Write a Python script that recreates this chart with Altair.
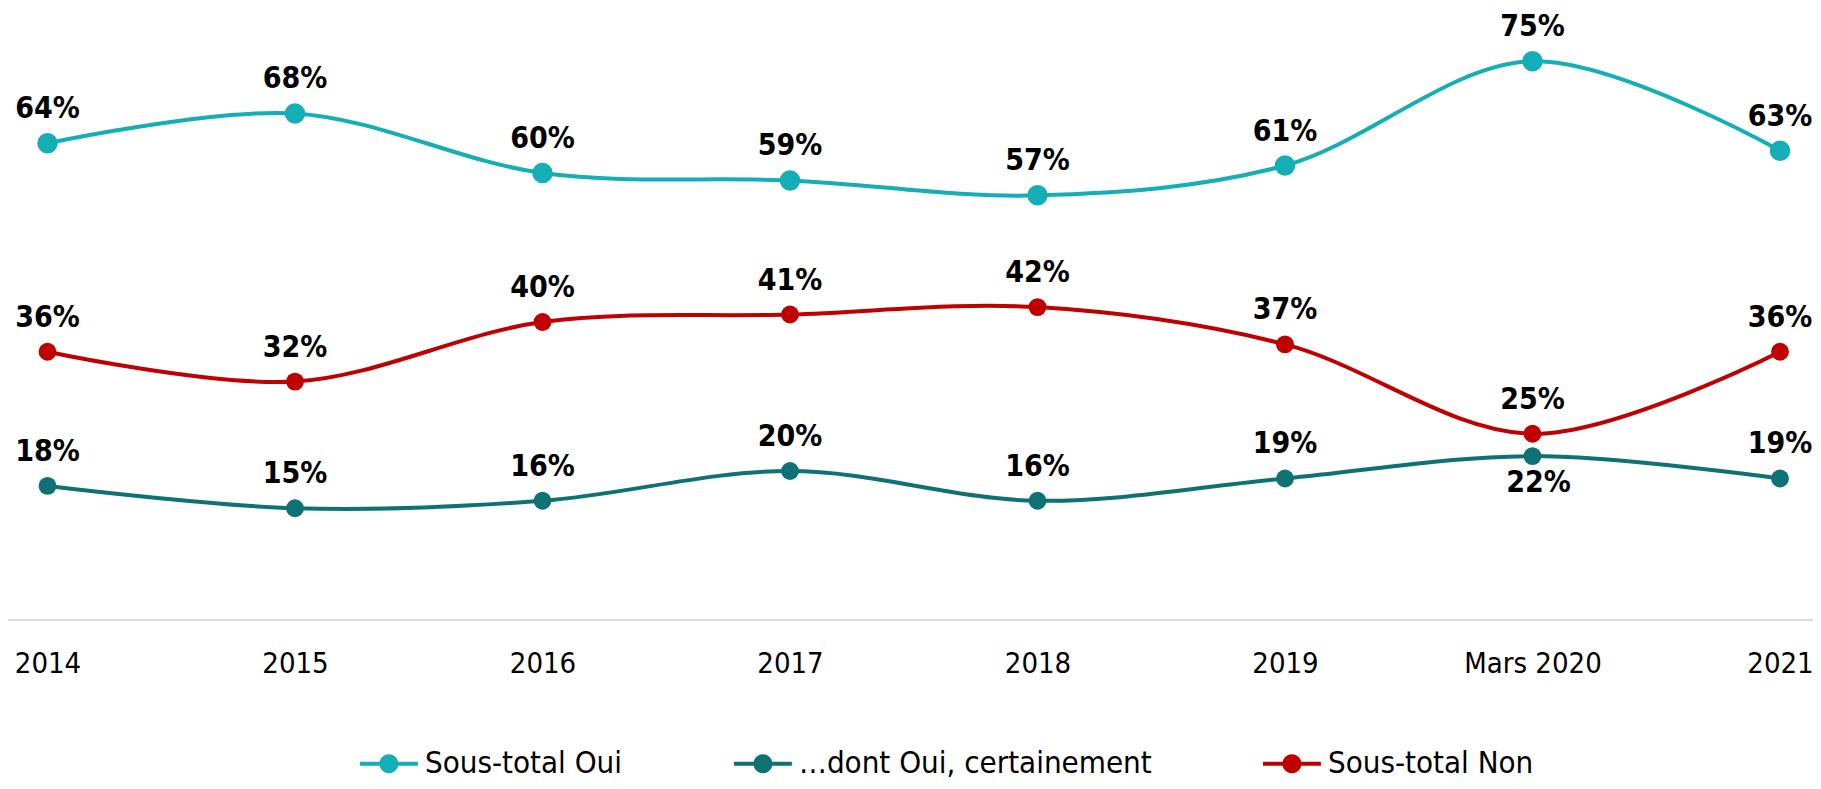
import math
import altair as alt
import pandas as pd

categories = ["2014", "2015", "2016", "2017", "2018", "2019", "Mars 2020", "2021"]
series_names = ["Sous-total Oui", "\u2026dont Oui, certainement", "Sous-total Non"]
sous_total_oui = [64, 68, 60, 59, 57, 61, 75, 63]
dont_oui_certainement = [18, 15, 16, 20, 16, 19, 22, 19]
sous_total_non = [36, 32, 40, 41, 42, 37, 25, 36]
colors = ["#14AEB6", "#0E7274", "#C00000"]

rows = []
for name, vals in zip(series_names, [sous_total_oui, dont_oui_certainement, sous_total_non]):
    for c, v in zip(categories, vals):
        rows.append({"annee": c, "serie": name, "valeur": v, "label": f"{v}%"})
df = pd.DataFrame(rows)

W, H = 1805, 596
FONT = "DejaVu Sans Condensed"

# legend glyph: short line with a dot in the middle (unit coords, scaled by sqrt(size)/2)
cx, r = 1.5, 0.82
circle_pts = " L".join(
    f"{cx + r * math.cos(2 * math.pi * k / 24):.3f},{r * math.sin(2 * math.pi * k / 24):.3f}"
    for k in range(24)
)
legend_path = ("M-1,-0.17 L0.7,-0.17 L0.7,0.17 L-1,0.17 Z "
               "M2.3,-0.17 L4,-0.17 L4,0.17 L2.3,0.17 Z "
               "M" + circle_pts + " Z")

x_enc = alt.X("annee:N", sort=categories,
              scale=alt.Scale(type="point", range=[39.5, 1772], padding=0),
              axis=alt.Axis(title=None, domain=False, ticks=False, tickSize=0,
                            labelAngle=0, labelFont=FONT, labelFontSize=29,
                            labelColor="#000000", labelPadding=29,
                            labelBaseline="top"))
y_enc = alt.Y("valeur:Q", scale=alt.Scale(domain=[0, 80], nice=False, zero=True), axis=None)
color_scale = alt.Scale(domain=series_names, range=colors)

base = alt.Chart(df)

baseline = alt.Chart(pd.DataFrame({"a": [0]})).mark_rule(
    color="#D9D9D9", strokeWidth=2
).encode(x=alt.value(-8), x2=alt.value(W + 8), y=alt.value(H))

line_layers = [
    base.transform_filter(alt.datum.serie == name).mark_line(
        interpolate="cardinal", tension=0, strokeWidth=4, color=col
    ).encode(x=x_enc, y=y_enc)
    for name, col in zip(series_names, colors)
]

points = base.mark_circle(opacity=1, size=320).encode(
    x=x_enc, y=y_enc,
    color=alt.Color("serie:N", scale=color_scale,
                    legend=alt.Legend(title=None, orient="none", direction="horizontal",
                                      legendX=348, legendY=724,
                                      symbolType=legend_path, symbolSize=538,
                                      symbolStrokeWidth=0, symbolOpacity=1,
                                      labelFont=FONT, labelFontSize=31,
                                      labelColor="#000000", labelLimit=800,
                                      labelOffset=38, columnPadding=107)),
)

points_oui = base.transform_filter(
    alt.datum.serie == series_names[0]
).mark_circle(opacity=1, size=420, fill=colors[0]).encode(x=x_enc, y=y_enc)

is_below = "datum.serie == '\u2026dont Oui, certainement' && datum.annee == 'Mars 2020'"

labels_above = base.transform_filter("!(" + is_below + ")").mark_text(
    font=FONT, fontSize=30, fontWeight="bold", color="#000000",
    baseline="alphabetic", dy=-25
).encode(x=x_enc, y=y_enc, text="label:N")

labels_below = base.transform_filter(is_below).mark_text(
    font=FONT, fontSize=30, fontWeight="bold", color="#000000",
    baseline="alphabetic", dy=36, dx=6
).encode(x=x_enc, y=y_enc, text="label:N")

chart = alt.layer(baseline, *line_layers, points, points_oui, labels_above, labels_below).properties(
    width=W, height=H, autosize="none",
    padding={"left": 0, "top": 16, "right": 0, "bottom": 161},
).configure(background="#FFFFFF").configure_view(stroke=None)

chart.save("out.html", embed_options={"renderer": "svg", "actions": False})
